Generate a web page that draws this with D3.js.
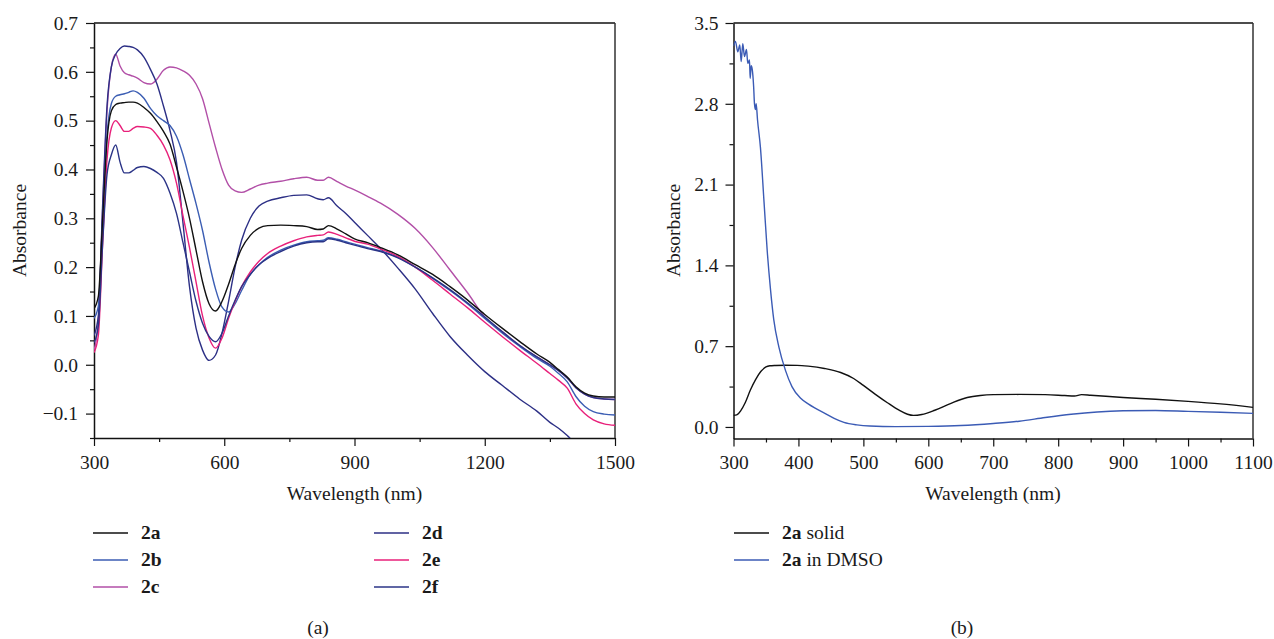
<!DOCTYPE html>
<html>
<head>
<meta charset="utf-8">
<script src="https://cdn.jsdelivr.net/npm/d3@7/dist/d3.min.js"></script>
<style>
  body { margin: 0; background: #fff; }
  svg { display: block; }
  text { font-family: "Liberation Serif", "DejaVu Serif", serif; fill: #1a1a1a; }
</style>
</head>
<body>
<svg id="chart" width="1274" height="639"></svg>
<script>
// ---------- Data: panel (a) ----------
const wavelengthA = [300,310,320,330,340,350,360,370,380,390,400,415,430,445,460,475,490,505,520,535,550,565,580,595,610,625,640,660,680,700,730,760,790,815,828,840,860,880,900,930,960,1000,1040,1080,1120,1160,1200,1240,1280,1320,1350,1370,1390,1410,1430,1450,1475,1500];

const abs2a = [0.115,0.14,0.30,0.46,0.52,0.533,0.536,0.537,0.538,0.538,0.536,0.527,0.515,0.498,0.478,0.452,0.405,0.355,0.30,0.235,0.17,0.125,0.11,0.13,0.165,0.205,0.238,0.265,0.28,0.285,0.286,0.285,0.283,0.277,0.278,0.285,0.278,0.268,0.258,0.25,0.24,0.225,0.205,0.185,0.16,0.133,0.103,0.075,0.048,0.022,0.005,-0.01,-0.025,-0.045,-0.058,-0.064,-0.066,-0.066];

const abs2b = [0.095,0.12,0.30,0.47,0.535,0.55,0.553,0.555,0.558,0.561,0.558,0.546,0.525,0.51,0.50,0.49,0.468,0.43,0.38,0.33,0.275,0.21,0.155,0.118,0.108,0.125,0.152,0.185,0.205,0.22,0.235,0.245,0.252,0.254,0.255,0.26,0.257,0.252,0.247,0.24,0.233,0.22,0.20,0.177,0.152,0.125,0.095,0.065,0.038,0.013,-0.003,-0.018,-0.035,-0.065,-0.085,-0.096,-0.101,-0.103];

const abs2c = [0.03,0.09,0.32,0.52,0.61,0.636,0.612,0.598,0.594,0.591,0.587,0.578,0.575,0.585,0.603,0.61,0.608,0.602,0.593,0.575,0.545,0.495,0.445,0.40,0.368,0.356,0.353,0.36,0.368,0.372,0.376,0.381,0.384,0.378,0.378,0.384,0.375,0.366,0.358,0.345,0.331,0.308,0.279,0.24,0.194,0.148,0.098,0.068,0.04,0.016,0.0,-0.012,-0.027,-0.047,-0.06,-0.067,-0.07,-0.071];

const abs2d = [0.06,0.10,0.33,0.53,0.61,0.636,0.648,0.653,0.652,0.65,0.645,0.63,0.605,0.575,0.53,0.48,0.415,0.29,0.16,0.075,0.03,0.009,0.02,0.065,0.13,0.20,0.255,0.30,0.325,0.335,0.342,0.347,0.348,0.34,0.338,0.342,0.325,0.31,0.292,0.265,0.238,0.198,0.155,0.105,0.058,0.02,-0.014,-0.042,-0.07,-0.095,-0.118,-0.13,-0.145,-0.163,null,null,null,null];

const abs2e = [0.025,0.06,0.25,0.42,0.485,0.50,0.49,0.478,0.478,0.484,0.488,0.487,0.484,0.47,0.45,0.42,0.372,0.305,0.24,0.17,0.10,0.055,0.034,0.055,0.095,0.13,0.16,0.19,0.212,0.228,0.243,0.254,0.262,0.265,0.266,0.272,0.267,0.26,0.253,0.247,0.237,0.222,0.20,0.173,0.145,0.117,0.087,0.058,0.03,0.003,-0.018,-0.032,-0.048,-0.08,-0.10,-0.113,-0.121,-0.124];

const abs2f = [0.045,0.08,0.25,0.39,0.43,0.45,0.415,0.393,0.393,0.398,0.404,0.406,0.402,0.394,0.382,0.352,0.31,0.25,0.19,0.13,0.085,0.058,0.047,0.065,0.10,0.132,0.16,0.185,0.205,0.218,0.232,0.243,0.25,0.252,0.252,0.258,0.255,0.25,0.245,0.238,0.232,0.219,0.20,0.178,0.154,0.127,0.098,0.068,0.04,0.016,0.0,-0.012,-0.027,-0.047,-0.06,-0.067,-0.07,-0.071];

const seriesNamesA = ["2a","2b","2c","2d","2e","2f"];
const seriesValuesA = [abs2a, abs2b, abs2c, abs2d, abs2e, abs2f];
const seriesColorsA = ["#111111","#3b5db3","#b24fa7","#2c2f85","#e8207a","#2b3487"];
const drawOrderA = [2,3,1,4,5,0];

const xTicksA = [300,600,900,1200,1500];
const xMinorA = [450,750,1050,1350];
const yTicksA = [-0.1,0.0,0.1,0.2,0.3,0.4,0.5,0.6,0.7];
const yMinorA = [-0.15,-0.05,0.05,0.15,0.25,0.35,0.45,0.55,0.65];

// ---------- Data: panel (b) ----------
const wavelengthSolid = [300,305,311,318,326,334,342,350,356,365,380,398,415,440,465,485,500,518,537,555,568,577,590,610,635,660,680,700,740,780,810,825,836,850,900,950,1000,1050,1100];
const absSolid = [0.10,0.105,0.14,0.21,0.32,0.41,0.48,0.52,0.53,0.533,0.535,0.534,0.527,0.507,0.472,0.42,0.36,0.285,0.21,0.145,0.11,0.10,0.108,0.145,0.205,0.255,0.273,0.28,0.282,0.28,0.272,0.268,0.28,0.275,0.255,0.24,0.222,0.20,0.17];

const wavelengthDmso = [300,303,306.6,309.7,311.8,314.3,316.9,320,322,324.6,325.7,327.2,328.8,331,332.3,333.8,334.9,337,341.5,347,352,357,362,370,380,390,403,415,425,440,455,470,490,510,550,600,650,700,740,780,820,860,900,950,1000,1050,1100];
const absDmso = [3.30,3.34,3.25,3.31,3.165,3.32,3.21,3.27,3.15,3.18,3.02,3.13,3.10,2.95,2.80,2.75,2.80,2.66,2.42,1.95,1.52,1.19,0.93,0.69,0.49,0.35,0.25,0.20,0.165,0.12,0.075,0.04,0.018,0.008,0.003,0.005,0.012,0.03,0.05,0.082,0.11,0.13,0.14,0.143,0.135,0.127,0.118];

const seriesNamesB = ["solid","in DMSO"];
const seriesColorsB = ["#111111","#3b5bb5"];

const xTicksB = [300,400,500,600,700,800,900,1000,1100];
const xMinorB = [350,450,550,650,750,850,950,1050];
const yTicksB = [0.0,0.7,1.4,2.1,2.8,3.5];
const yMinorB = [0.35,1.05,1.75,2.45,3.15];

// ---------- Drawing ----------
const svg = d3.select("#chart");
svg.append("rect").attr("width",1274).attr("height",639).attr("fill","#fff");

const FS = 19.5;
const fmtA = v => (v < 0 ? "\u2212" : "") + Math.abs(v).toFixed(1);

function panel(opts) {
  const {x, y, xTicks, xMinor, yTicks, yMinor, yFmt, id, yPad} = opts;
  const g = svg.append("g");
  const [x0, x1] = x.range();
  const [y0, y1] = y.range();

  svg.append("clipPath").attr("id", id).append("rect")
    .attr("x", x0).attr("y", y1).attr("width", x1 - x0).attr("height", y0 - y1);

  g.append("g").attr("transform", `translate(0,${y0})`)
    .call(d3.axisBottom(x).tickValues(xMinor).tickSize(4).tickFormat(""))
    .call(a => a.select(".domain").remove())
    .call(a => a.selectAll("line").attr("stroke", "#111").attr("stroke-width", 1.2));
  g.append("g").attr("transform", `translate(${x0},0)`)
    .call(d3.axisLeft(y).tickValues(yMinor).tickSize(4).tickFormat(""))
    .call(a => a.select(".domain").remove())
    .call(a => a.selectAll("line").attr("stroke", "#111").attr("stroke-width", 1.2));

  const xa = g.append("g").attr("transform", `translate(0,${y0})`)
    .call(d3.axisBottom(x).tickValues(xTicks).tickSize(8).tickSizeOuter(0).tickPadding(9).tickFormat(d3.format("d")));
  const ya = g.append("g").attr("transform", `translate(${x0},0)`)
    .call(d3.axisLeft(y).tickValues(yTicks).tickSize(8).tickSizeOuter(0).tickPadding(yPad).tickFormat(yFmt));
  [xa, ya].forEach(a => {
    a.selectAll("text").attr("font-size", FS).attr("font-family", null).style("fill", "#1a1a1a");
    a.selectAll("line").attr("stroke", "#111").attr("stroke-width", 1.2);
    a.select(".domain").attr("stroke", "#111").attr("stroke-width", 1.5);
  });

  g.append("line").attr("x1", x0).attr("x2", x1).attr("y1", y1).attr("y2", y1).attr("stroke", "#111").attr("stroke-width", 1.5);
  g.append("line").attr("x1", x1).attr("x2", x1).attr("y1", y1).attr("y2", y0).attr("stroke", "#333").attr("stroke-width", 1.5);
  return g;
}

// Panel (a)
const xA = d3.scaleLinear().domain([300, 1500]).range([94, 615]);
const yA = d3.scaleLinear().domain([-0.15, 0.7]).range([438, 23]);
panel({x: xA, y: yA, xTicks: xTicksA, xMinor: xMinorA, yTicks: yTicksA, yMinor: yMinorA, yFmt: fmtA, id: "clipA", yPad: 8});

const lineA = d3.line()
  .defined(d => d[1] !== null)
  .x(d => xA(d[0])).y(d => yA(d[1]))
  .curve(d3.curveMonotoneX);

const linesA = svg.append("g").attr("clip-path", "url(#clipA)");
drawOrderA.forEach(i => {
  const pts = wavelengthA.map((w, k) => [w, seriesValuesA[i][k]]);
  linesA.append("path").attr("d", lineA(pts))
    .attr("fill", "none").attr("stroke", seriesColorsA[i]).attr("stroke-width", 1.4);
});

svg.append("text").attr("x", 354.5).attr("y", 500).attr("text-anchor", "middle")
  .attr("font-size", FS).text("Wavelength (nm)");
svg.append("text").attr("transform", "translate(26,230.5) rotate(-90)").attr("text-anchor", "middle")
  .attr("font-size", FS).text("Absorbance");

const legRows = [533, 560, 587];
seriesNamesA.forEach((name, i) => {
  const col = Math.floor(i / 3), row = i % 3;
  const lx = col === 0 ? 93 : 374;
  const ly = legRows[row];
  svg.append("line").attr("x1", lx).attr("x2", lx + 35).attr("y1", ly).attr("y2", ly)
    .attr("stroke", seriesColorsA[i]).attr("stroke-width", 1.5);
  svg.append("text").attr("x", lx + 48).attr("y", ly + 6).attr("font-size", FS)
    .attr("font-weight", "bold").text(name);
});
svg.append("text").attr("x", 318).attr("y", 634).attr("text-anchor", "middle").attr("font-size", FS).text("(a)");

// Panel (b)
const xB = d3.scaleLinear().domain([300, 1100]).range([733.5, 1253]);
const yB = d3.scaleLinear().domain([-0.1, 3.5]).range([438.5, 23]);
panel({x: xB, y: yB, xTicks: xTicksB, xMinor: xMinorB, yTicks: yTicksB, yMinor: yMinorB, yFmt: d3.format(".1f"), id: "clipB", yPad: 7});

const lineB = d3.line().x(d => xB(d[0])).y(d => yB(d[1])).curve(d3.curveMonotoneX);
const linesB = svg.append("g").attr("clip-path", "url(#clipB)");
linesB.append("path").attr("d", lineB(wavelengthSolid.map((w, k) => [w, absSolid[k]])))
  .attr("fill", "none").attr("stroke", seriesColorsB[0]).attr("stroke-width", 1.4);
linesB.append("path").attr("d", lineB(wavelengthDmso.map((w, k) => [w, absDmso[k]])))
  .attr("fill", "none").attr("stroke", seriesColorsB[1]).attr("stroke-width", 1.4);

svg.append("text").attr("x", 993).attr("y", 500).attr("text-anchor", "middle")
  .attr("font-size", FS).text("Wavelength (nm)");
svg.append("text").attr("transform", "translate(680,230.5) rotate(-90)").attr("text-anchor", "middle")
  .attr("font-size", FS).text("Absorbance");

const legRowsB = [533, 560];
seriesNamesB.forEach((name, i) => {
  const lx = 734, ly = legRowsB[i];
  svg.append("line").attr("x1", lx).attr("x2", lx + 35).attr("y1", ly).attr("y2", ly)
    .attr("stroke", seriesColorsB[i]).attr("stroke-width", 1.5);
  const t = svg.append("text").attr("x", lx + 48).attr("y", ly + 6).attr("font-size", FS);
  t.append("tspan").attr("font-weight", "bold").text("2a");
  t.append("tspan").text(" " + name);
});
svg.append("text").attr("x", 962).attr("y", 634).attr("text-anchor", "middle").attr("font-size", FS).text("(b)");
</script>
</body>
</html>
